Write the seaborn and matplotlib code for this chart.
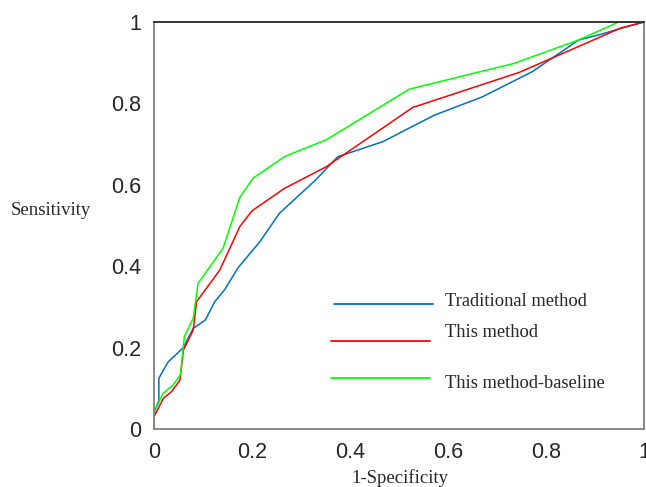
import matplotlib
matplotlib.use("Agg")
import matplotlib.pyplot as plt
import seaborn as sns
import pandas as pd

# ROC curves
trad_fpr = [0, 0.01, 0.01, 0.029, 0.06, 0.08, 0.105, 0.124, 0.144, 0.172, 0.216, 0.256,
            0.33, 0.375, 0.467, 0.572, 0.67, 0.772, 0.867, 0.907, 0.952, 1.0]
trad_tpr = [0.04, 0.07, 0.125, 0.165, 0.20, 0.247, 0.268, 0.313, 0.342, 0.397, 0.46, 0.53,
            0.612, 0.669, 0.706, 0.771, 0.816, 0.878, 0.956, 0.968, 0.984, 1.0]

this_fpr = [0, 0.019, 0.036, 0.053, 0.06, 0.08, 0.087, 0.134, 0.175, 0.2, 0.266, 0.351,
            0.528, 0.745, 0.863, 0.952, 1.0]
this_tpr = [0.03, 0.075, 0.092, 0.12, 0.194, 0.243, 0.313, 0.39, 0.497, 0.536, 0.591, 0.644,
            0.790, 0.876, 0.938, 0.985, 1.0]

base_fpr = [0, 0.0, 0.018, 0.039, 0.054, 0.062, 0.08, 0.09, 0.141, 0.175, 0.202, 0.266,
            0.29, 0.351, 0.521, 0.734, 0.867, 0.948, 1.0]
base_tpr = [0, 0.04, 0.087, 0.108, 0.133, 0.227, 0.272, 0.358, 0.444, 0.569, 0.616, 0.669,
            0.681, 0.71, 0.835, 0.898, 0.956, 1.0, 1.0]

methods = ["Traditional method", "This method", "This method-baseline"]
colors = ["#0072BD", "#FF0000", "#00FF00"]
ticks = [0, 0.2, 0.4, 0.6, 0.8, 1]
tick_labels = ["0", "0.2", "0.4", "0.6", "0.8", "1"]


def build_data_set():
    frames = []
    for name, fpr, tpr in zip(methods, [trad_fpr, this_fpr, base_fpr], [trad_tpr, this_tpr, base_tpr]):
        df = pd.DataFrame({"1-Specificity": fpr, "Sensitivity": tpr})
        df["Method"] = name
        frames.append(df)
    return pd.concat(frames, ignore_index=True)


def main():
    df = build_data_set()

    sns.set_style("white")
    plt.rcParams["font.family"] = ["Liberation Sans", "DejaVu Sans"]

    fig = plt.figure(figsize=(6.46, 4.87), dpi=100)
    ax = fig.add_axes([154 / 646, 58 / 487, 490 / 646, 407 / 487])

    sns.lineplot(data=df, x="1-Specificity", y="Sensitivity", hue="Method",
                 palette=dict(zip(methods, colors)), hue_order=methods,
                 units="Method", estimator=None, sort=False, linewidth=1.1,
                 legend=False, ax=ax)

    ax.set_xlim(0, 1)
    ax.set_ylim(0, 1)
    ax.set_xticks(ticks)
    ax.set_xticklabels(tick_labels)
    ax.set_yticks(ticks)
    ax.set_yticklabels(tick_labels)
    ax.tick_params(direction="in", length=4, width=1, color="#808080",
                   labelsize=15.5, labelcolor="#262626")
    ax.tick_params(axis="y", pad=9)
    ax.tick_params(axis="x", pad=9)

    for side in ["left", "bottom", "right"]:
        ax.spines[side].set_color("#808080")
        ax.spines[side].set_linewidth(1.3)
    ax.spines["top"].set_color("#262626")
    ax.spines["top"].set_linewidth(1.3)

    serif = ["Liberation Serif", "DejaVu Serif"]
    ax.set_xlabel("1-Specificity", family=serif, fontsize=13.5, va="center")
    ax.xaxis.set_label_coords(0.502, -0.12)
    ax.set_ylabel("Sensitivity", family=serif, fontsize=13.5, rotation=0,
                  ha="center", va="center")
    ax.yaxis.set_label_coords(-0.21, 0.538)

    # hand-placed legend as in the original figure
    legend_lines = [(0.368, 0.57, 0.307), (0.362, 0.563, 0.216), (0.362, 0.563, 0.125)]
    legend_text_y = [0.314, 0.236, 0.113]
    for (x0, x1, y), ty, name, c in zip(legend_lines, legend_text_y, methods, colors):
        ax.plot([x0, x1], [y, y], color=c, linewidth=1.3)
        ax.text(0.594, ty, name, family=serif, fontsize=13.3, va="center", ha="left")

    plt.savefig("out.png", dpi=100)


main()
